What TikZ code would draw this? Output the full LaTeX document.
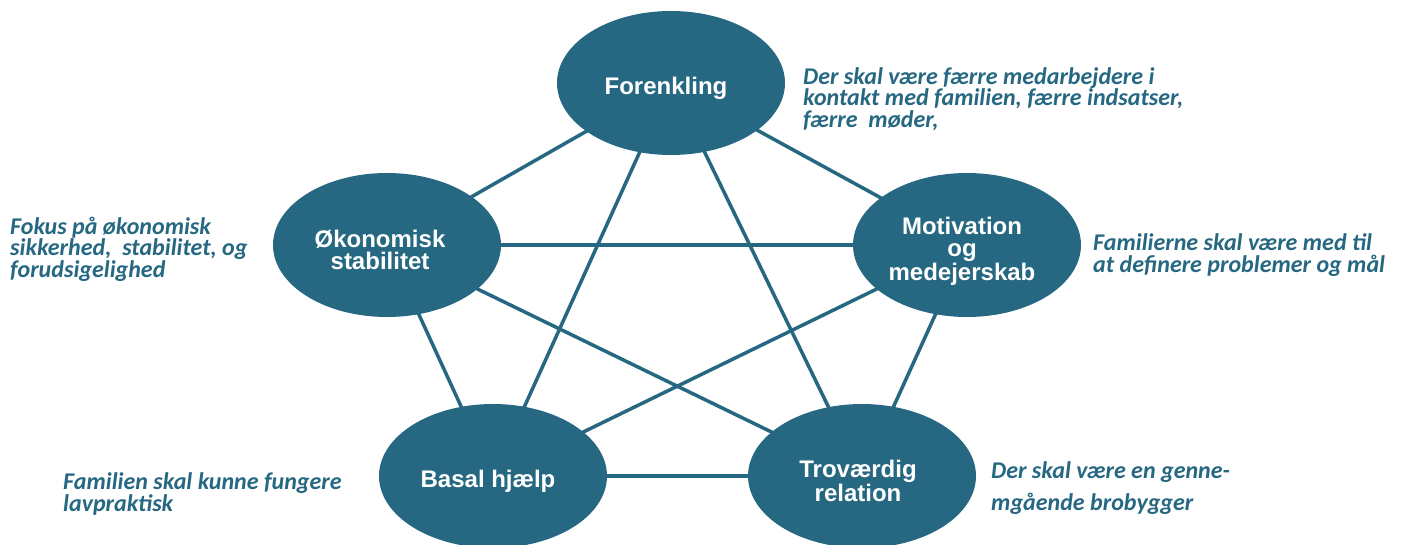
\documentclass[tikz,border=0pt]{standalone}
\usepackage{fontspec}
\setmainfont{Liberation Sans}
\newfontfamily\descfont{Carlito}
\usetikzlibrary{shapes.geometric,backgrounds}
\definecolor{tealc}{RGB}{38,104,130}
\begin{document}
\begin{tikzpicture}[x=1pt,y=-1pt,
 bub/.style={ellipse, fill=tealc, draw=none, minimum width=228pt, minimum height=144pt, inner sep=0pt},
 bubtext/.style={text=white, font=\fontsize{24}{21.5}\selectfont\bfseries, align=center, inner sep=0pt},
 desc/.style={font=\descfont\fontsize{24}{21.5}\selectfont\bfseries\itshape, text=tealc, align=left, inner sep=0pt, anchor=base west},
 link/.style={draw=tealc, line width=3.5pt}]
\useasboundingbox (0,0) rectangle (1401,544);
\node[bub] (f) at (671,83) {};
\node[bub] (o) at (387,245) {};
\node[bub] (m) at (967,245) {};
\node[bub] (b) at (493,476) {};
\node[bub] (t) at (862,476) {};
\node[bubtext] (fl) at ([shift={(-5,5)}]f.center) {Forenkling};
\node[bubtext] (ol) at ([shift={(-7,5)}]o.center) {Økonomisk\\stabilitet};
\node[bubtext] (ml) at ([shift={(-5,6)}]m.center) {Motivation\\[0.5pt]og\\[0.5pt]medejerskab};
\node[bubtext] (bl) at ([shift={(-5,5)}]b.center) {Basal hjælp};
\node[bubtext] (tl) at ([shift={(-4,5)}]t.center) {Troværdig\\relation};
\begin{pgfonlayer}{background}
\draw[link] (f.center) -- (o.center);
\draw[link] (f.center) -- (m.center);
\draw[link] (f.center) -- (b.center);
\draw[link] (f.center) -- (t.center);
\draw[link] (o.center) -- (m.center);
\draw[link] (o.center) -- (b.center);
\draw[link] (o.center) -- (t.center);
\draw[link] (m.center) -- (b.center);
\draw[link] (m.center) -- (t.center);
\draw[link] (b.center) -- (t.center);
\end{pgfonlayer}
\node[desc] (fd) at (803,127) {Der skal være færre medarbejdere i\\kontakt med familien, færre indsatser,\\færre\ \ møder,};
\node[desc] (od) at (10,277) {Fokus på økonomisk\\sikkerhed,\ \ stabilitet, og\\forudsigelighed};
\node[desc] (md) at (1093,272) {Familierne skal være med til\\at definere problemer og mål};
\node[desc] (bd) at (63,511) {Familien skal kunne fungere\\lavpraktisk};
\node[desc] (td) at (991,510) {Der skal være en genne-\\[10pt]mgående brobygger};
\end{tikzpicture}
\end{document}
